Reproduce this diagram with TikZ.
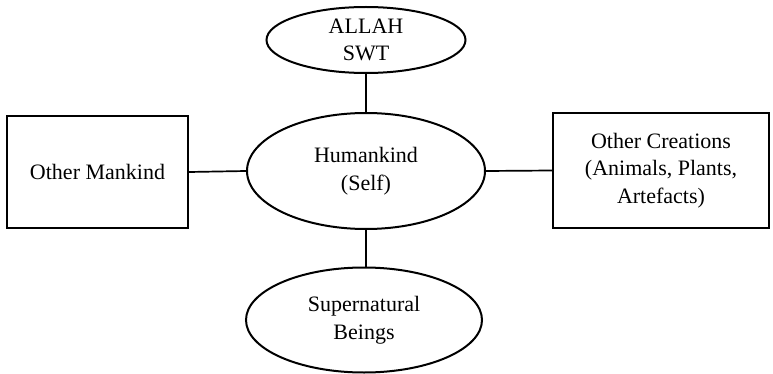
\documentclass[tikz,border=0pt]{standalone}
\usepackage{fontspec}
\setmainfont{Liberation Serif}
\usetikzlibrary{shapes.geometric}
\begin{document}
\begin{tikzpicture}[x=1pt,y=-1pt,
  lbl/.style={align=center,inner sep=0pt,font=\fontsize{22}{27.5}\selectfont},
  oval/.style={ellipse,draw,line width=2pt,lbl},
  boxnode/.style={rectangle,draw,line width=2.2pt,lbl},
  link/.style={line width=1.7pt}]
\useasboundingbox (0,0) rectangle (773,374);
\node[oval,minimum width=199pt,minimum height=66pt] (allah) at (366,40) {ALLAH\\SWT};
\node[oval,minimum width=238pt,minimum height=116pt] (human) at (366,171) {Humankind\\(Self)};
\node[oval,minimum width=236pt,minimum height=105pt] (super) at (364,320) {Supernatural\\Beings};
\node[boxnode,minimum width=181pt,minimum height=112pt] (mank) at (97.5,172) {Other Mankind};
\node[boxnode,minimum width=216pt,minimum height=115pt] (creat) at (661,170.5) {Other Creations\\(Animals, Plants,\\Artefacts)};
\draw[link] (allah.south) -- (human.north);
\draw[link] (human.south) -- (human.south |- super.north);
\draw[link] (mank.east) -- (human.west);
\draw[link] (human.east) -- (creat.west);
\end{tikzpicture}
\end{document}
